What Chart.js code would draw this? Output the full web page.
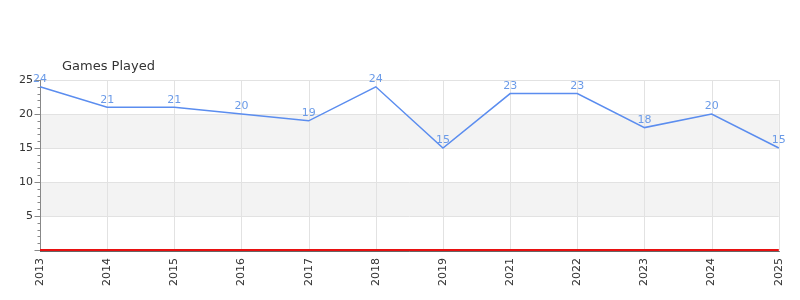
<!DOCTYPE html>
<html><head><meta charset="utf-8">
<script src="https://cdn.jsdelivr.net/npm/chart.js@4.4.0/dist/chart.umd.min.js"></script>
<style>html,body{margin:0;padding:0;background:#fff}#wrap{width:800px;height:300px}</style>
</head><body><div id="wrap"><canvas id="c" width="800" height="300"></canvas></div>
<script>
const categories = ['2013','2014','2015','2016','2017','2018','2019','2021','2022','2023','2024','2025'];
const gamesPlayed = [24,21,21,20,19,24,15,23,23,18,20,15];
const baseline = [0,0,0,0,0,0,0,0,0,0,0,0];
const yMajorTicks = [5,10,15,20,25];
const titleText = 'Games Played';

const FONT = '"DejaVu Sans", sans-serif';

const decor = {
  id: 'decor',
  beforeDatasetsDraw(chart) {
    const {ctx, chartArea: a, scales: {y}} = chart;
    ctx.save();
    ctx.fillStyle = '#f3f3f3';
    [[5,10],[15,20]].forEach(([lo,hi]) => {
      const t = y.getPixelForValue(hi), b = y.getPixelForValue(lo);
      ctx.fillRect(a.left, t, a.right - a.left, b - t);
    });
    ctx.strokeStyle = '#e2e2e2'; ctx.lineWidth = 1;
    const x = chart.scales.x;
    categories.forEach((c, i) => {
      const px = Math.round(x.getPixelForValue(i)) + 0.5;
      ctx.beginPath(); ctx.moveTo(px, a.top); ctx.lineTo(px, a.bottom); ctx.stroke();
    });
    yMajorTicks.forEach(v => {
      const py = Math.round(y.getPixelForValue(v)) + 0.5;
      ctx.beginPath(); ctx.moveTo(a.left, py); ctx.lineTo(a.right, py); ctx.stroke();
    });
    // y axis line and ticks
    ctx.strokeStyle = '#888';
    const ax = Math.round(a.left) + 0.5;
    ctx.beginPath(); ctx.moveTo(ax, a.top); ctx.lineTo(ax, a.bottom); ctx.stroke();
    for (let v = 0; v <= 25; v++) {
      const py = Math.round(y.getPixelForValue(v)) + 0.5;
      const len = (v % 5 === 0) ? 6 : 3;
      ctx.beginPath(); ctx.moveTo(ax - len, py); ctx.lineTo(ax, py); ctx.stroke();
    }
    // y labels
    ctx.fillStyle = '#333'; ctx.font = '11px ' + FONT;
    ctx.textAlign = 'right'; ctx.textBaseline = 'middle';
    yMajorTicks.forEach(v => ctx.fillText(String(v), a.left - 7, y.getPixelForValue(v)));
    // title
    ctx.textAlign = 'left'; ctx.textBaseline = 'middle';
    ctx.font = '13px ' + FONT; ctx.fillStyle = '#333';
    ctx.fillText(titleText, a.left + 22, 67);
    ctx.restore();
  },
  afterDatasetsDraw(chart) {
    const {ctx, chartArea: a} = chart;
    ctx.save();
    // x axis line
    ctx.strokeStyle = '#666'; ctx.lineWidth = 1;
    const by = Math.round(a.bottom) + 1.5;
    ctx.beginPath(); ctx.moveTo(a.left, by); ctx.lineTo(a.right + 1, by); ctx.stroke();
    const meta = chart.getDatasetMeta(1);
    ctx.font = '11px ' + FONT; ctx.fillStyle = '#6b9be8';
    ctx.textAlign = 'center'; ctx.textBaseline = 'bottom';
    meta.data.forEach((pt, i) => ctx.fillText(String(gamesPlayed[i]), pt.x, pt.y - 2));
    ctx.restore();
  }
};

new Chart(document.getElementById('c'), {
  type: 'line',
  data: {
    labels: categories,
    datasets: [
      {label: 'baseline', data: baseline, borderColor: '#e81010', borderWidth: 2, pointRadius: 0, fill: false, tension: 0, clip: false},
      {label: titleText, data: gamesPlayed, borderColor: '#5b8def', borderWidth: 1.5, pointRadius: 0, fill: false, tension: 0}
    ]
  },
  options: {
    responsive: false, animation: false, devicePixelRatio: 1,
    layout: {padding: {top: 80, right: 19, left: 0, bottom: 0}},
    plugins: {legend: {display: false}, title: {display: false}, tooltip: {enabled: false}},
    scales: {
      x: {
        offset: false,
        grid: {display: false, drawTicks: false},
        border: {display: false},
        ticks: {maxRotation: 90, minRotation: 90, color: '#333', font: {family: FONT, size: 11}, padding: 8, autoSkip: false},
        afterFit(s) { s.height = 50; }
      },
      y: {
        min: 0, max: 25,
        grid: {display: false, drawTicks: false},
        border: {display: false},
        ticks: {display: false, stepSize: 5},
        afterFit(s) { s.width = 40; }
      }
    }
  },
  plugins: [decor]
});
</script></body></html>
